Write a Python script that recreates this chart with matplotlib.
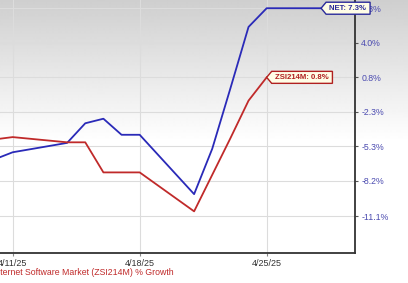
import matplotlib
matplotlib.use("Agg")
import matplotlib.pyplot as plt
from matplotlib.patches import Polygon
from matplotlib.transforms import IdentityTransform
import numpy as np
import pandas as pd

plt.rcParams["font.family"] = ["Liberation Sans", "DejaVu Sans"]

# ── Data (% growth) ──────────────────────────────────────────────────────────
net_dates = ["2025-04-10", "2025-04-11", "2025-04-14", "2025-04-15", "2025-04-16",
             "2025-04-17", "2025-04-18", "2025-04-21", "2025-04-22", "2025-04-23",
             "2025-04-24", "2025-04-25", "2025-04-28"]
net_growth = [-6.4, -5.8, -5.0, -3.3, -2.9, -4.3, -4.3, -9.3, -5.5, -0.2, 5.5, 7.3, 7.3]

zsi_dates = ["2025-04-10", "2025-04-11", "2025-04-14", "2025-04-15", "2025-04-16",
             "2025-04-17", "2025-04-18", "2025-04-21", "2025-04-22", "2025-04-23",
             "2025-04-24", "2025-04-25"]
zsi_growth = [-4.7, -4.5, -4.95, -4.95, -7.5, -7.5, -7.5, -10.7, -7.7, -4.6, -1.3, 0.8]

y_ticks = [7.3, 4.0, 0.8, -2.3, -5.3, -8.2, -11.1]
x_ticks = ["2025-04-11", "2025-04-18", "2025-04-25"]
x_tick_labels = ["4/11/25", "4/18/25", "4/25/25"]

BLUE = "#2a2ab8"
RED = "#c02a2a"

fig = plt.figure(figsize=(4.08, 2.83), dpi=100)

# ── Grey-to-white background gradient ────────────────────────────────────────
bg = fig.add_axes([0, 0, 1, 1], zorder=-10)
rows = np.linspace(0, 1, 283)
shade = np.clip(0.81 + 0.19 * rows / 0.5, 0, 1)
bg.imshow(shade[:, None], cmap="gray", vmin=0, vmax=1, aspect="auto",
          extent=[0, 1, 0, 1], origin="upper", interpolation="bilinear")
bg.axis("off")

# ── Main axes ────────────────────────────────────────────────────────────────
ax = fig.add_axes([0.0, 0.106, 0.870, 0.894])
ax.set_facecolor("none")
ax.set_yscale("function", functions=(lambda v: np.log1p(np.asarray(v) / 100.0),
                                     lambda u: np.expm1(np.asarray(u)) * 100.0))

ax.plot(pd.to_datetime(net_dates), net_growth, color=BLUE, lw=1.3, zorder=3)
ax.plot(pd.to_datetime(zsi_dates), zsi_growth, color=RED, lw=1.3, zorder=3)

ax.set_xlim(pd.Timestamp("2025-04-10 07:12"), pd.Timestamp("2025-04-29 20:48"))
ax.set_ylim(-14.0, 8.1)

ax.set_xticks(pd.to_datetime(x_ticks))
ax.set_xticklabels(x_tick_labels)
ax.set_yticks(y_ticks)
ax.set_yticklabels([f"{v:.1f}%" for v in y_ticks])

ax.yaxis.tick_right()
ax.tick_params(axis="y", length=2.5, width=0.8, color="#555555", pad=2,
               labelsize=6.3, labelcolor="#4b4bb0")
ax.tick_params(axis="x", length=2, width=0.8, color="#888888", pad=2,
               labelsize=6.5, labelcolor="#333333")

ax.grid(True, color="#dcdcdc", lw=0.8)
ax.set_axisbelow(True)
for side in ("top", "left"):
    ax.spines[side].set_visible(False)
for side in ("right", "bottom"):
    ax.spines[side].set_color("#333333")
    ax.spines[side].set_linewidth(1.3)

fig.text(-0.017, 0.036, "Internet Software Market (ZSI214M) % Growth",
         color=RED, fontsize=6.3, va="center", ha="left")


# ── End-of-line tag labels ───────────────────────────────────────────────────
def tag(date, value, label, color):
    fig.canvas.draw()
    px, py = ax.transData.transform((matplotlib.dates.date2num(pd.Timestamp(date)), value))
    t = fig.text(px + 8, py, label, transform=IdentityTransform(), fontsize=5.6,
                 fontweight="bold", color=color, va="center", ha="left", zorder=11)
    bb = t.get_window_extent(fig.canvas.get_renderer())
    top, bot = py + 6, py - 6
    verts = [(px, py), (px + 5, top), (bb.x1 + 4, top), (bb.x1 + 4, bot), (px + 5, bot)]
    fig.add_artist(Polygon(verts, closed=True, transform=IdentityTransform(),
                           facecolor="#fffde6", edgecolor=color, lw=1.0, zorder=10))


tag(net_dates[-1], net_growth[-1], f"NET: {net_growth[-1]:.1f}%", "#2a2a9a")
tag(zsi_dates[-1], zsi_growth[-1], f"ZSI214M: {zsi_growth[-1]:.1f}%", "#b02020")

fig.savefig("out.png", dpi=100)
